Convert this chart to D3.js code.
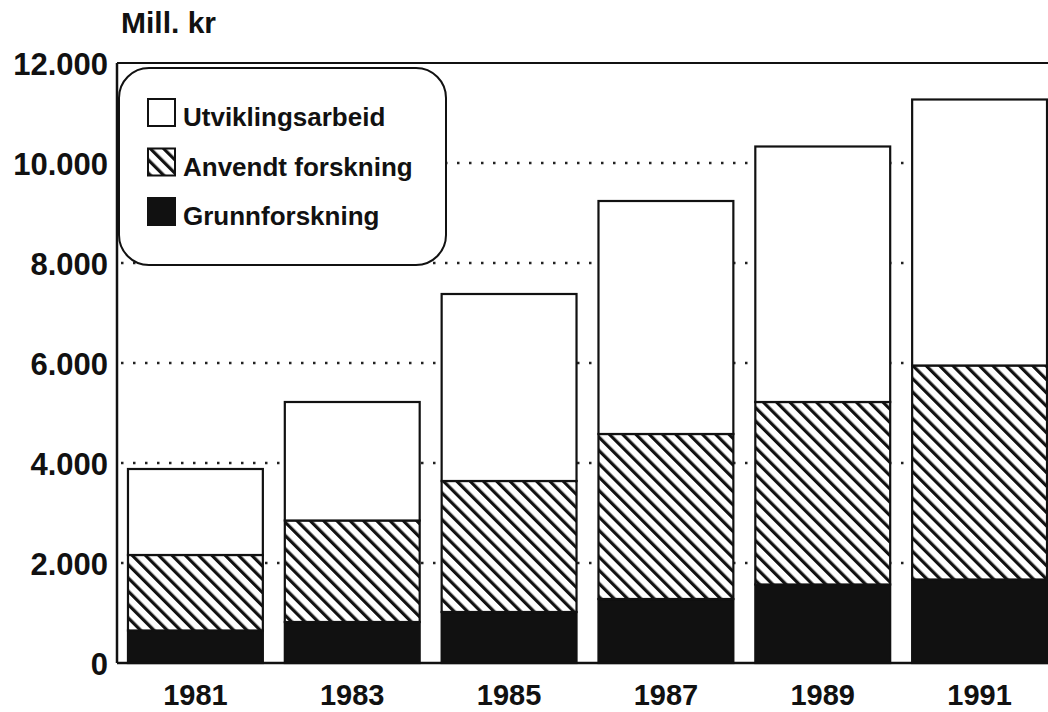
<!DOCTYPE html>
<html>
<head>
  <meta charset="utf-8">
  <script src="https://cdnjs.cloudflare.com/ajax/libs/d3/7.8.5/d3.min.js"></script>
  <style>
    body { margin: 0; background: #fff; }
    text { font-family: "Liberation Sans", Arial, sans-serif; font-weight: bold; fill: #111; }
  </style>
</head>
<body>
  <div id="chart"></div>

  <script>
    // values in mill. kr
    const years = ['1981', '1983', '1985', '1987', '1989', '1991'];
    const grunnforskning = [650, 820, 1020, 1280, 1570, 1670];
    const anvendt = [1510, 2030, 2620, 3300, 3650, 4280];
    const utvikling = [1720, 2370, 3740, 4660, 5110, 5320];
    const yTicks = [0, 2000, 4000, 6000, 8000, 10000, 12000];
    const seriesNames = ['Grunnforskning', 'Anvendt forskning', 'Utviklingsarbeid'];

    const width = 1048, height = 712;
    const plotLeft = 117, plotTop = 63, plotBottom = 663, plotRight = 1058;

    const svg = d3.select('#chart').append('svg')
      .attr('width', width)
      .attr('height', height);

    const defs = svg.append('defs');
    defs.append('pattern')
      .attr('id', 'hatch')
      .attr('patternUnits', 'userSpaceOnUse')
      .attr('width', 9.4)
      .attr('height', 9.4)
      .attr('patternTransform', 'rotate(-45)')
      .call(p => {
        p.append('rect').attr('width', 9.4).attr('height', 9.4).attr('fill', '#fff');
        p.append('line').attr('x1', 1.6).attr('x2', 1.6).attr('y1', 0).attr('y2', 9.4)
          .attr('stroke', '#111').attr('stroke-width', 3.2);
      });

    const fills = ['#111', 'url(#hatch)', '#fff'];

    const x = d3.scaleBand().domain(years).range([plotLeft, plotRight])
      .paddingInner(0.14).paddingOuter(0.07);
    const y = d3.scaleLinear().domain([0, 12000]).range([plotBottom, plotTop]);

    const table = years.map((yr, i) => ({
      year: yr, g: grunnforskning[i], a: anvendt[i], u: utvikling[i]
    }));
    const stacked = d3.stack().keys(['g', 'a', 'u'])(table);

    // dotted grid
    svg.append('g')
      .selectAll('line')
      .data(yTicks.filter(t => t > 0 && t < 12000))
      .join('line')
      .attr('x1', plotLeft + 4).attr('x2', width)
      .attr('y1', d => y(d)).attr('y2', d => y(d))
      .attr('stroke', '#222')
      .attr('stroke-width', 2.5)
      .attr('stroke-dasharray', '2.5,9.5');

    // frame
    svg.append('line').attr('x1', plotLeft).attr('x2', width).attr('y1', plotTop).attr('y2', plotTop)
      .attr('stroke', '#111').attr('stroke-width', 2);
    svg.append('line').attr('x1', plotLeft).attr('x2', plotLeft).attr('y1', plotTop).attr('y2', plotBottom)
      .attr('stroke', '#111').attr('stroke-width', 2.5);
    svg.append('line').attr('x1', plotLeft).attr('x2', width).attr('y1', plotBottom).attr('y2', plotBottom)
      .attr('stroke', '#111').attr('stroke-width', 2.5);

    // bars
    svg.append('g')
      .selectAll('g')
      .data(stacked)
      .join('g')
      .attr('fill', (d, i) => fills[i])
      .selectAll('rect')
      .data(d => d)
      .join('rect')
      .attr('x', d => x(d.data.year))
      .attr('width', x.bandwidth())
      .attr('y', d => y(d[1]))
      .attr('height', d => y(d[0]) - y(d[1]))
      .attr('stroke', '#111')
      .attr('stroke-width', 2.2);

    // y labels
    const fmt = v => v === 0 ? '0' : d3.format(',')(v).replace(',', '.');
    svg.append('g')
      .selectAll('text')
      .data(yTicks)
      .join('text')
      .attr('x', 108)
      .attr('y', d => y(d) + 12)
      .attr('text-anchor', 'end')
      .attr('font-size', 31)
      .text(fmt);

    // x labels
    svg.append('g')
      .selectAll('text')
      .data(years)
      .join('text')
      .attr('x', d => x(d) + x.bandwidth() / 2)
      .attr('y', 705)
      .attr('text-anchor', 'middle')
      .attr('font-size', 29)
      .text(d => d);

    svg.append('text')
      .attr('x', 121).attr('y', 33)
      .attr('font-size', 30)
      .text('Mill. kr');

    // legend
    const legend = svg.append('g');
    legend.append('rect')
      .attr('x', 119).attr('y', 68)
      .attr('width', 327).attr('height', 197)
      .attr('rx', 30)
      .attr('fill', '#fff')
      .attr('stroke', '#111')
      .attr('stroke-width', 2);

    const items = legend.selectAll('g.item')
      .data([2, 1, 0])
      .join('g')
      .attr('class', 'item')
      .attr('transform', (d, i) => `translate(148,${99 + i * 49.5})`);
    items.append('rect')
      .attr('width', 27).attr('height', 27)
      .attr('fill', d => fills[d])
      .attr('stroke', '#111').attr('stroke-width', 2);
    items.append('text')
      .attr('x', 35).attr('y', 27)
      .attr('font-size', 26)
      .text(d => seriesNames[d]);
  </script>
</body>
</html>
